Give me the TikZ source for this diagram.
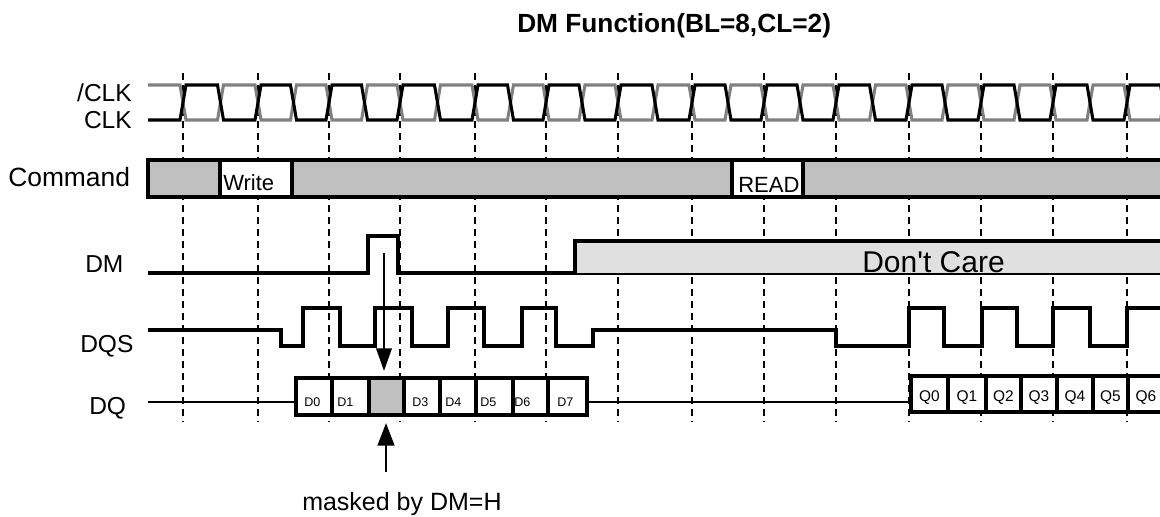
\documentclass[tikz,border=0pt]{standalone}
\usepackage{fontspec}
\setmainfont{Liberation Sans}
\newfontfamily\dcfont[Ligatures=TeXOff]{Liberation Sans}
\usetikzlibrary{arrows.meta}
\definecolor{clkgray}{HTML}{808080}
\definecolor{cmdgray}{HTML}{C0C0C0}
\definecolor{dcgray}{HTML}{E0E0E0}
\begin{document}
\begin{tikzpicture}[x=0.75pt,y=-0.75pt,
  wave/.style={line width=2.3pt, line join=miter},
  clkg/.style={line width=2.3pt, draw=clkgray, line join=miter},
  clkb/.style={line width=2.3pt, draw=black, line join=miter},
  gridline/.style={line width=1.5pt, dash pattern=on 5.5pt off 3.5pt},
  thinline/.style={line width=1.6pt},
  lbl/.style={font=\fontsize{18.4}{20}\selectfont, inner sep=0pt},
  ttl/.style={font=\bfseries\fontsize{19.7}{22}\selectfont, inner sep=0pt, anchor=base west},
  cmdtxt/.style={font=\fontsize{16.5}{18}\selectfont, inner sep=0pt, anchor=base west},
  dtxt/.style={font=\fontsize{9.4}{10}\selectfont, inner sep=0pt, anchor=base west},
  qtxt/.style={font=\fontsize{11.6}{12}\selectfont, inner sep=0pt, anchor=base},
  dctxt/.style={font=\dcfont\fontsize{22.5}{24}\selectfont, inner sep=0pt, anchor=base west},
  maskarrow/.style={line width=1.9pt, -{Triangle[length=17pt,width=11.5pt]}}
]
\useasboundingbox (0,0) rectangle (1160,517);

% title
\node[ttl] (title) at (517,33) {DM Function(BL=8,CL=2)};

% signal labels
\node[lbl, anchor=base east] (lclkn) at (132,102) {/CLK};
\node[lbl, anchor=base east] (lclk) at (132,128) {CLK};
\node[lbl, anchor=base west, font=\fontsize{19.8}{21}\selectfont] (lcmd) at (8,186) {Command};
\node[lbl, anchor=base west] (ldm) at (85,272) {DM};
\node[lbl, anchor=base west] (ldqs) at (80,352) {DQS};
\node[lbl, anchor=base west] (ldq) at (89,414) {DQ};

% dashed clock grid
\foreach \x in {183,258,329,400,475,546,618,692,764,836,909,981,1053,1127}
  \draw[gridline] (\x,73) -- (\x,422);

% clocks
\draw[clkg] (148,85) foreach \a/\b in {183/258,258/329,329/400,400/475,475/546,546/618,618/692,692/764,764/836,836/909,909/981,981/1053,1053/1127,1127/1200}
  { -- ({\a-3},85) -- ({\a+3},120) -- ({(\a+\b)/2-3},120) -- ({(\a+\b)/2+3},85) };
\draw[clkb] (148,120) foreach \a/\b in {183/258,258/329,329/400,400/475,475/546,546/618,618/692,692/764,764/836,836/909,909/981,981/1053,1053/1127,1127/1200}
  { -- ({\a-3},120) -- ({\a+3},85) -- ({(\a+\b)/2-3},85) -- ({(\a+\b)/2+3},120) };

% command bar
\filldraw[wave, fill=cmdgray] (148,160) rectangle (1175,197);
\filldraw[wave, fill=white] (220,160) rectangle (292,197);
\filldraw[wave, fill=white] (732,160) rectangle (803,197);
\node[cmdtxt] (cwrite) at (223,190) {Write};
\node[cmdtxt] (cread) at (738,192) {READ};

% DM
\draw[wave] (148,273) -- (368,273) -- (368,236) -- (398,236) -- (398,273) -- (1175,273);
\filldraw[wave, fill=dcgray] (575,273) -- (575,241) -- (1175,241) -- (1175,273);
\node[dctxt] (dc) at (862,272) {Don't Care};

% DQS
\draw[wave] (148,330) -- (281,330) -- (281,346) -- (303,346) -- (303,308) -- (340,308)
  -- (340,346) -- (375,346) -- (375,308) -- (412,308) -- (412,346) -- (448,346)
  -- (448,308) -- (484,308) -- (484,346) -- (522,346) -- (522,308) -- (556,308)
  -- (556,346) -- (593,346) -- (593,330) -- (836,330) -- (836,346) -- (909,346)
  -- (909,308) -- (944,308) -- (944,346) -- (982,346) -- (982,308) -- (1017,308)
  -- (1017,346) -- (1053,346) -- (1053,308) -- (1090,308) -- (1090,346) -- (1127,346)
  -- (1127,308) -- (1175,308);

% DQ
\draw[thinline] (148,402) -- (296,402);
\draw[thinline] (587,402) -- (911,402);
\filldraw[wave, fill=white] (296,378) rectangle (587,415);
\fill[cmdgray] (369,378) rectangle (404,415);
\draw[wave] (296,378) rectangle (587,415);
\foreach \x in {332,369,404,440,476,513,548}
  \draw[wave] (\x,378) -- (\x,415);
\node[dtxt] (d0) at (304,406) {D0};
\node[dtxt] (d1) at (337,406) {D1};
\node[dtxt] (d3) at (412,406) {D3};
\node[dtxt] (d4) at (445,406) {D4};
\node[dtxt] (d5) at (480,406) {D5};
\node[dtxt] (d6) at (514,406) {D6};
\node[dtxt] (d7) at (557,406) {D7};

\filldraw[wave, fill=white] (911,376) rectangle (1175,412);
\foreach \x in {948,986,1021,1057,1093,1128,1164}
  \draw[wave] (\x,376) -- (\x,412);
\node[qtxt] (q0) at (929.5,401) {Q0};
\node[qtxt] (q1) at (967,401) {Q1};
\node[qtxt] (q2) at (1003.5,401) {Q2};
\node[qtxt] (q3) at (1039,401) {Q3};
\node[qtxt] (q4) at (1075,401) {Q4};
\node[qtxt] (q5) at (1110.5,401) {Q5};
\node[qtxt] (q6) at (1146,401) {Q6};

% mask arrows
\coordinate (dmsrc) at (384,253);
\coordinate (dmtip) at (384,371);
\coordinate (mkbase) at (386,472);
\coordinate (mktip) at (386,423);
\draw[maskarrow] (dmsrc) -- (dmtip);
\draw[maskarrow, -{Triangle[length=17pt,width=12.5pt]}] (mkbase) -- (mktip);
\node[lbl, anchor=base west, font=\fontsize{18.75}{20}\selectfont] (mask) at (302,510) {masked by DM=H};
\end{tikzpicture}
\end{document}
